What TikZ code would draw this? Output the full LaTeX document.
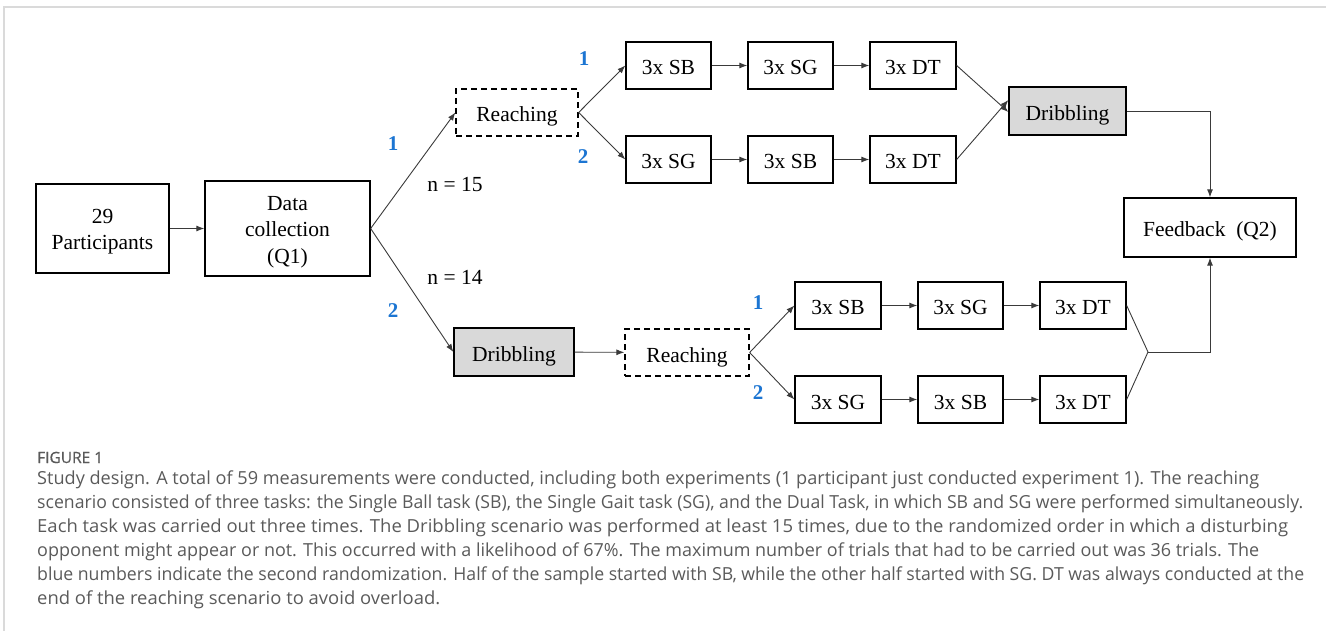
\documentclass[tikz,border=0pt]{standalone}
\usepackage{fontspec}
\setmainfont{Liberation Serif}
\newfontfamily\capfamily{Open Sans}
\newfontfamily\figfamily{Open Sans}[FakeBold=0.6]
\usetikzlibrary{arrows.meta}
\definecolor{refblue}{HTML}{1C75D2}
\definecolor{capgray}{HTML}{5A5A5A}
\definecolor{boxgray}{HTML}{D9D9D9}
\definecolor{framegray}{HTML}{DADADA}
\definecolor{linkgray}{HTML}{3A3A3A}
\newlength\capw
\newcommand\capfont{\capfamily\fontsize{18}{24}\selectfont\color{capgray}}
% one caption line, stretched horizontally to a given width (in pt)
\newcommand\capline[2]{\settowidth\capw{\capfont #2}\pgfmathsetmacro\capsx{#1/\capw}\scalebox{\capsx}[1]{\capfont #2}}
% stacked lines inside a box, set slightly below the middle
\newcommand\stacked[1]{\raisebox{-8pt}[0pt][0pt]{\begin{tabular}{@{}c@{}}#1\end{tabular}}}
\begin{document}
\begin{tikzpicture}[x=1pt,y=-1pt,
  font=\fontsize{21.5}{26.5}\selectfont,
  box/.style={draw=black,line width=1.3pt,minimum height=47pt,inner sep=0pt,
    align=center,text height=24pt,text depth=5pt},
  mbox/.style={draw=black,line width=1.3pt,inner sep=0pt,align=center},
  dbox/.style={box,dash pattern=on 6pt off 4pt},
  gbox/.style={box,fill=boxgray},
  link/.style={draw=linkgray,line width=0.9pt},
  arr/.style={link,-{Latex[length=8pt,width=6pt]}},
  num/.style={text=refblue,font=\fontsize{21}{24}\selectfont\bfseries},
  caplinestyle/.style={anchor=base west,inner sep=0pt}]
\useasboundingbox (0,0) rectangle (1326,631);
% frame edges
\draw[framegray,line width=1.5pt] (4,631) -- (4,7) -- (1326,7);

% first stage
\node[mbox,minimum width=133pt,minimum height=89pt] (part) at (102.5,228.5) {\stacked{29\\Participants}};
\node[mbox,minimum width=165pt,minimum height=95pt] (data) at (287.5,228.5) {\stacked{Data\\collection\\(Q1)}};

% group 1: reaching first
\node[dbox,minimum width=122pt] (reachA) at (517,112.5) {Reaching};
\node[box,minimum width=85pt] (sbA) at (668.5,65.5) {3x SB};
\node[box,minimum width=85pt] (sgA) at (790.5,65.5) {3x SG};
\node[box,minimum width=86pt] (dtA) at (913,65.5) {3x DT};
\node[box,minimum width=85pt] (sgB) at (668.5,159.5) {3x SG};
\node[box,minimum width=85pt] (sbB) at (790.5,159.5) {3x SB};
\node[box,minimum width=86pt] (dtB) at (913,159.5) {3x DT};
\node[gbox,minimum width=117pt,minimum height=48pt] (dribA) at (1067.5,111) {Dribbling};

% questionnaire
\node[box,minimum width=172pt,minimum height=59pt] (fb) at (1210,227.5) {Feedback\ \ (Q2)};

% group 2: dribbling first
\node[gbox,minimum width=120pt,minimum height=48pt] (dribB) at (514,352) {Dribbling};
\node[dbox,minimum width=124pt] (reachB) at (687,352.5) {Reaching};
\node[box,minimum width=86pt] (sbC) at (838,305.5) {3x SB};
\node[box,minimum width=85pt] (sgC) at (960.5,305.5) {3x SG};
\node[box,minimum width=86pt] (dtC) at (1083,305.5) {3x DT};
\node[box,minimum width=86pt] (sgD) at (838,399.5) {3x SG};
\node[box,minimum width=85pt] (sbD) at (960.5,399.5) {3x SB};
\node[box,minimum width=86pt] (dtD) at (1083,399.5) {3x DT};
\coordinate (join) at (1148,352);

% connectors
\draw[arr] (part) -- (data);
\draw[arr] (data.east) -- (reachA.west);
\draw[arr] (data.east) -- (dribB.west);
\draw[arr] (reachA.east) -- (sbA.west);
\draw[arr] (reachA.east) -- (sgB.west);
\draw[arr] (sbA) -- (sgA);
\draw[arr] (sgA) -- (dtA);
\draw[arr] (sgB) -- (sbB);
\draw[arr] (sbB) -- (dtB);
\draw[arr] (dtA.east) -- ([yshift=-1pt]dribA.west);
\draw[arr] (dtB.east) -- ([yshift=11pt]dribA.west);
\draw[arr] (dribA.east) -| (fb.north);
\draw[arr] (dribB) -- (reachB);
\draw[arr] (reachB.east) -- (sbC.west);
\draw[arr] (reachB.east) -- (sgD.west);
\draw[arr] (sbC) -- (sgC);
\draw[arr] (sgC) -- (dtC);
\draw[arr] (sgD) -- (sbD);
\draw[arr] (sbD) -- (dtD);
\draw[link] (dtC.east) -- (join);
\draw[link] (dtD.east) -- (join);
\draw[arr] (join) -| (fb.south);

% labels
\node[num] (r1a) at (393,144) {1};
\node[num] (r1b) at (393,311) {2};
\node (nA) at (455,185) {n = 15};
\node (nB) at (455,277) {n = 14};
\node[num] (r2a) at (584,59) {1};
\node[num] (r2b) at (583,157) {2};
\node[num] (r3a) at (758,303) {1};
\node[num] (r3b) at (758,393) {2};

% caption
\node[caplinestyle] (fig) at (37,463) {\figfamily\fontsize{15.5}{18}\selectfont\color{capgray}FIGURE 1};
\node[caplinestyle] (c1) at (37,484) {\capline{1222}{Study design. A total of 59 measurements were conducted, including both experiments (1 participant just conducted experiment 1). The reaching}};
\node[caplinestyle] (c2) at (37,508) {\capline{1266}{scenario consisted of three tasks: the Single Ball task (SB), the Single Gait task (SG), and the Dual Task, in which SB and SG were performed simultaneously.}};
\node[caplinestyle] (c3) at (37,532) {\capline{1251}{Each task was carried out three times. The Dribbling scenario was performed at least 15 times, due to the randomized order in which a disturbing}};
\node[caplinestyle] (c4) at (37,556) {\capline{1222}{opponent might appear or not. This occurred with a likelihood of 67\%. The maximum number of trials that had to be carried out was 36 trials. The}};
\node[caplinestyle] (c5) at (37,580) {\capline{1267}{blue numbers indicate the second randomization. Half of the sample started with SB, while the other half started with SG. DT was always conducted at the}};
\node[caplinestyle] (c6) at (37,604) {\capline{403}{end of the reaching scenario to avoid overload.}};
\end{tikzpicture}
\end{document}
